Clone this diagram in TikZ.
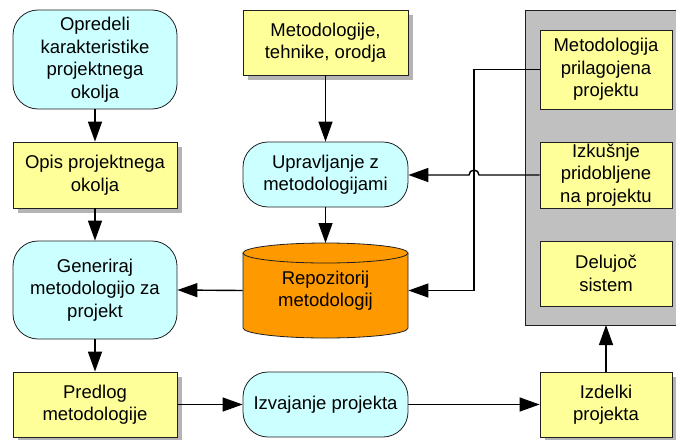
\documentclass[tikz,border=0pt]{standalone}
\usepackage{fontspec}
\setmainfont{Liberation Sans}
\usetikzlibrary{arrows.meta,shadows}
\definecolor{boxyellow}{HTML}{FFFF99}
\definecolor{boxcyan}{HTML}{CCFFFF}
\definecolor{repoorange}{HTML}{FF9900}
\definecolor{panelgray}{HTML}{C0C0C0}
\definecolor{shadowgray}{HTML}{B4B4B4}
\definecolor{edge}{HTML}{202020}

\begin{document}
\begin{tikzpicture}[x=1pt,y=-1pt,
  base/.style={draw=edge, line width=0.8pt, inner sep=0pt, align=center,
    font=\fontsize{18.5}{22.5}\selectfont},
  flatbox/.style={base, fill=boxyellow},
  rectbox/.style={flatbox,
    drop shadow={shadow xshift=5pt, shadow yshift=-5pt, fill=shadowgray, opacity=1}},
  roundbox/.style={base, fill=boxcyan, rounded corners=25pt},
  conn/.style={line width=1.4pt, -{Triangle[length=20pt,width=14pt]}},
  plain/.style={line width=1.4pt}
]
\useasboundingbox (0,0) rectangle (676,439);

% grey panel holding the project results
\fill[panelgray] (525,10) rectangle (680,325);
\draw[edge, line width=0.8pt] (680,10) -- (525,10) -- (525,325) -- (680,325);

% left column
\node[roundbox, minimum width=164pt, minimum height=99pt] (opr) at (95,59.5)
  {Opredeli\\karakteristike\\projektnega\\okolja};
\node[rectbox, minimum width=164pt, minimum height=66pt] (opis) at (95,175)
  {Opis projektnega\\okolja};
\node[roundbox, minimum width=164pt, minimum height=98pt] (gen) at (95,290)
  {Generiraj\\metodologijo za\\projekt};
\node[rectbox, minimum width=164pt, minimum height=65pt] (pred) at (95,404.5)
  {Predlog\\metodologije};

% middle column
\node[rectbox, minimum width=165pt, minimum height=65pt] (met) at (325.5,42.5)
  {Metodologije,\\tehnike, orodja};
\node[roundbox, minimum width=165pt, minimum height=65pt] (upr) at (325.5,174.5)
  {Upravljanje z\\metodologijami};

% repository cylinder
\fill[repoorange] (243,253) -- (243,328)
  arc[start angle=180, end angle=360, x radius=82.5pt, y radius=10pt]
  -- (408,253)
  arc[start angle=0, end angle=180, x radius=82.5pt, y radius=10pt] -- cycle;
\draw[edge, line width=0.8pt] (243,253) -- (243,328)
  arc[start angle=180, end angle=360, x radius=82.5pt, y radius=10pt]
  -- (408,253);
\draw[edge, line width=0.8pt] (325.5,253) ellipse[x radius=82.5pt, y radius=10pt];
\node[base, draw=none, minimum width=165pt, minimum height=40pt] (repo) at (325.5,290.5)
  {Repozitorij\\metodologij};

\node[roundbox, minimum width=165pt, minimum height=65pt] (izv) at (325.5,404.5)
  {Izvajanje projekta};

% right column
\node[flatbox, minimum width=132pt, minimum height=79pt] (mp) at (606,69.5)
  {Metodologija\\prilagojena\\projektu};
\node[flatbox, minimum width=132pt, minimum height=66pt] (izk) at (606,175)
  {Izkušnje\\pridobljene\\na projektu};
\node[flatbox, minimum width=132pt, minimum height=65pt] (del) at (606,273.5)
  {Delujoč\\sistem};
\node[rectbox, minimum width=132pt, minimum height=65pt] (izd) at (606,404.5)
  {Izdelki\\projekta};
\coordinate (panelbot) at (606,325);

% connectors
\draw[conn] (opr) -- (opis);
\draw[conn] (opis) -- (gen);
\draw[conn] (gen) -- (pred);
\draw[conn] (met) -- (upr);
\draw[conn] (upr) -- (325.5,243);
\draw[conn] (repo.west) -- (gen.east);
\draw[conn] (pred) -- (izv);
\draw[conn] (izv) -- (izd);
\draw[conn] (izd) -- (panelbot);
\draw[conn] (mp.west) -- (474,69.5) -- (474,290.5) -- (repo.east);
\draw[conn] (izk.west) -- (479,175)
  arc[start angle=0, end angle=180, radius=5pt] -- (upr.east |- 0,175);
\end{tikzpicture}
\end{document}
